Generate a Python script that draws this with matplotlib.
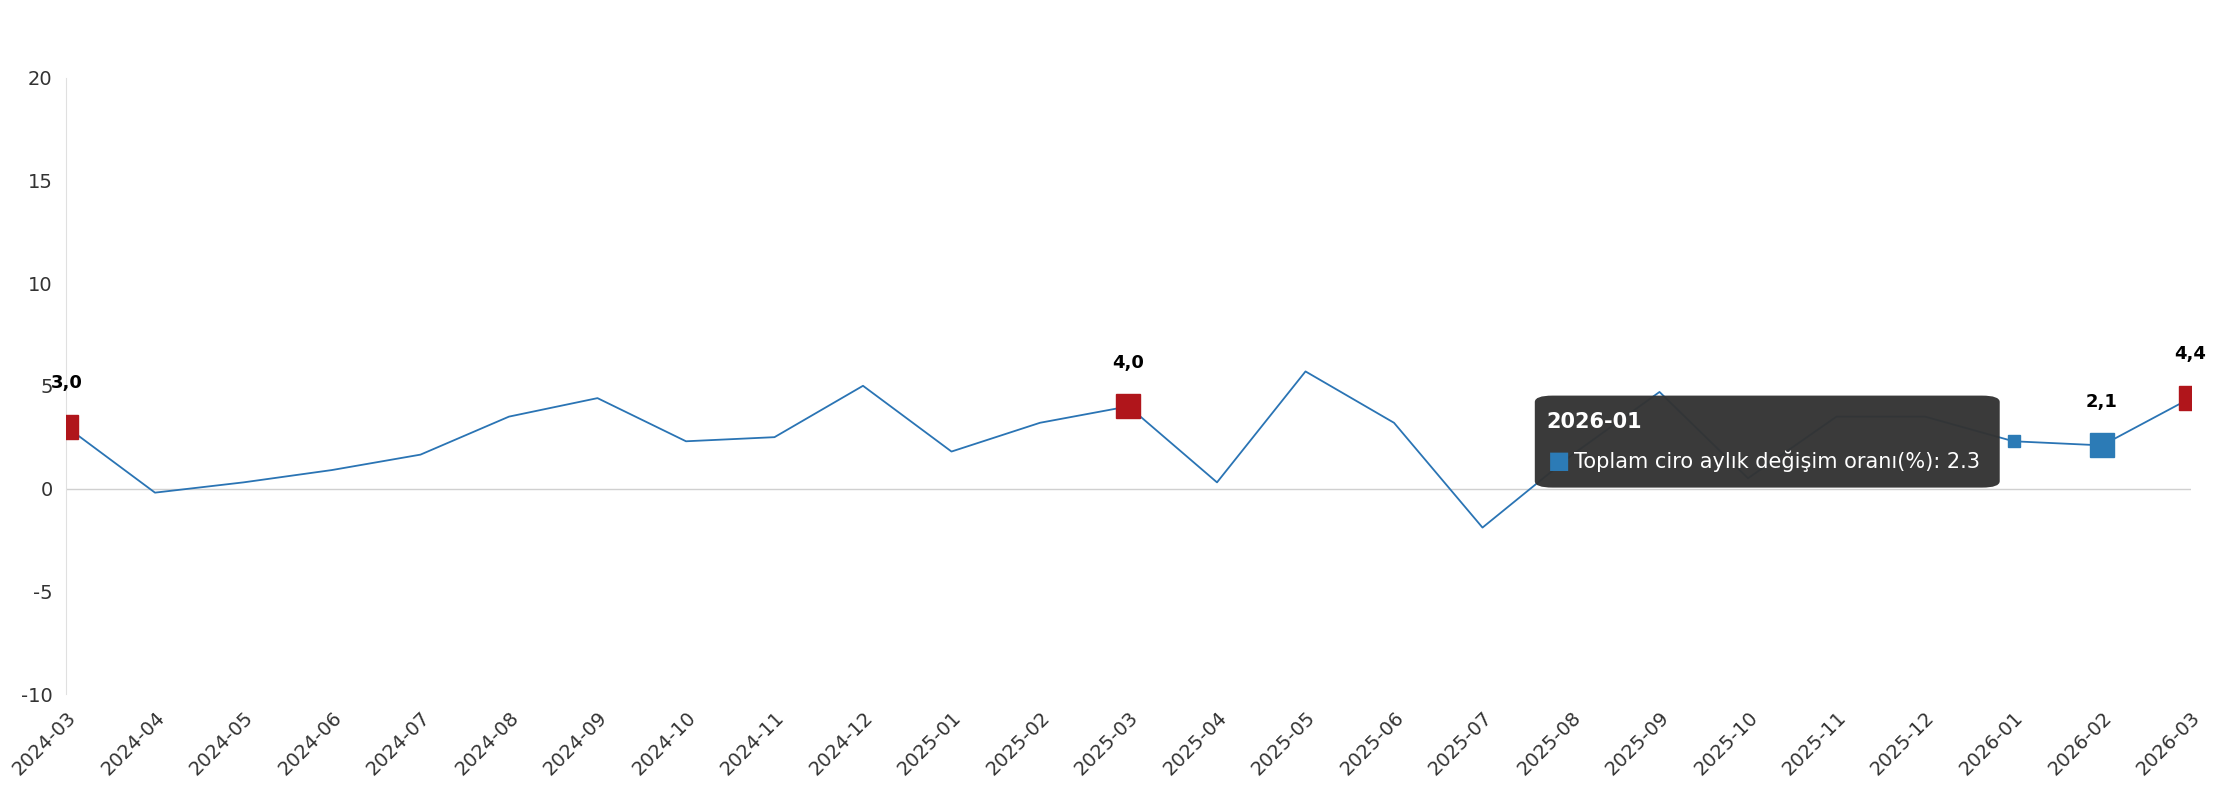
import matplotlib
matplotlib.use("Agg")
import matplotlib.pyplot as plt
from matplotlib.patches import FancyBboxPatch

months = ["2024-03","2024-04","2024-05","2024-06","2024-07","2024-08","2024-09","2024-10","2024-11","2024-12",
          "2025-01","2025-02","2025-03","2025-04","2025-05","2025-06","2025-07","2025-08","2025-09","2025-10",
          "2025-11","2025-12","2026-01","2026-02","2026-03"]
values = [3.0,-0.2,0.3,0.9,1.65,3.5,4.4,2.3,2.5,5.0,1.8,3.2,4.0,0.3,5.7,3.2,-1.9,1.6,4.7,0.5,3.5,3.5,2.3,2.1,4.4]
red_idx = [0, 12, 24]
blue_idx = [23]
hover_idx = 22
yticks = [-10, -5, 0, 5, 10, 15, 20]

blue = "#2c7bb6"
red = "#b0151b"
fig = plt.figure(figsize=(22.16, 8), dpi=100)
ax = fig.add_axes([0.030, 0.1325, 0.9585, 0.7705])
x = list(range(len(months)))
ax.plot(x, values, color="#2a74b4", lw=1.3, zorder=2)
ax.axhline(0, color="#d0d0d0", lw=1, zorder=1)
for i in red_idx:
    ax.plot(i, values[i], marker="s", ms=17, color=red, zorder=3)
for i in blue_idx:
    ax.plot(i, values[i], marker="s", ms=17, color=blue, zorder=3)
ax.plot(hover_idx, values[hover_idx], marker="s", ms=8, color=blue, zorder=3)
for i in red_idx + blue_idx:
    ax.annotate(f"{values[i]:.1f}".replace(".", ","), (i, values[i]), xytext=(0, 25),
                textcoords="offset points", ha="center", va="bottom", fontsize=13, fontweight="bold")
ax.set_xlim(0, len(months) - 1)
ax.set_ylim(-10, 20)
ax.set_yticks(yticks)
ax.set_yticklabels([str(v) for v in yticks])
ax.set_xticks(x)
ax.set_xticklabels(months, rotation=45, ha="right", rotation_mode="anchor")
ax.tick_params(axis="both", length=0, labelsize=14, colors="#333333", pad=10)
for s in ["top", "right", "bottom"]:
    ax.spines[s].set_visible(False)
ax.spines["left"].set_color("#e0e0e0")

box = FancyBboxPatch((0.6926, 0.3905), 0.2098, 0.115, boxstyle="round,pad=0,rounding_size=0.008",
                     transform=fig.transFigure, facecolor="#333333", edgecolor="none", alpha=0.97, zorder=10)
fig.patches.append(box)
fig.text(0.698, 0.473, months[hover_idx], color="white", fontsize=15, fontweight="bold", va="center", zorder=11)
fig.text(0.6985, 0.424, "\u25A0", color=blue, fontsize=17, va="center", zorder=11)
fig.text(0.7105, 0.424, f"Toplam ciro aylık değişim oranı(%): {values[hover_idx]}", color="white",
         fontsize=15, va="center", zorder=11)
fig.savefig("out.png", dpi=100)
